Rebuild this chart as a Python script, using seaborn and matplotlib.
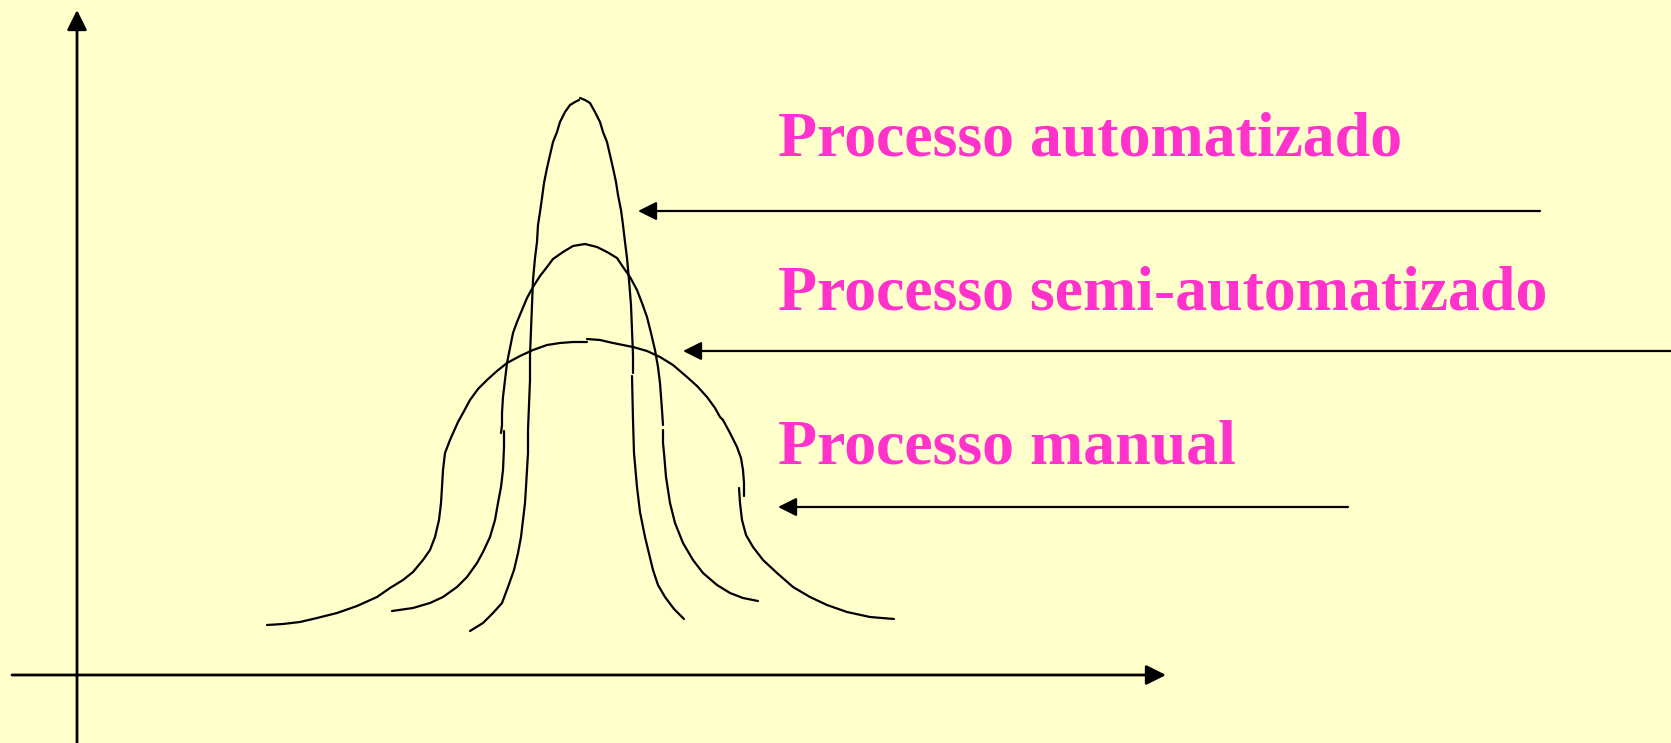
import pandas as pd
from matplotlib import pyplot as plt
import seaborn as sns

# curve points (pixel coords, y grows downward)
# each curve is drawn as a few segments, like the hand-drawn original
auto_left_x = [579, 575, 570, 565, 560, 557, 553, 550, 547, 544, 542, 540, 538, 537, 535, 533, 532, 531, 530, 530, 529,
               528, 528, 527, 526, 525, 523, 521, 518, 514, 508, 502, 493, 483, 470]
auto_left_y = [100, 102, 105, 112, 122, 132, 142, 155, 168, 183, 198, 212, 225, 242, 258, 280, 305, 330, 355, 380, 405,
               430, 453, 470, 487, 503, 520, 537, 553, 570, 587, 603, 613, 623, 631]
auto_right_top_x = [580, 585, 590, 595, 600, 603, 607, 610, 613, 616, 618, 621, 623, 625, 627, 629, 631, 632, 633, 633]
auto_right_top_y = [98, 100, 103, 112, 122, 132, 142, 155, 168, 182, 195, 210, 225, 242, 258, 280, 305, 330, 355, 373]
auto_right_low_x = [632, 633, 634, 637, 640, 645, 653, 658, 665, 674, 684]
auto_right_low_y = [376, 420, 453, 487, 512, 537, 570, 585, 597, 609, 619]

semi_left_top_x = [585, 573, 563, 553, 547, 540, 533, 527, 522, 517, 513, 510, 507, 505, 503, 502, 502, 501]
semi_left_top_y = [244, 246, 252, 259, 267, 276, 287, 298, 310, 322, 333, 348, 363, 380, 397, 413, 425, 433]
semi_left_low_x = [504, 504, 503, 501, 498, 495, 490, 483, 477, 467, 457, 443, 430, 413, 392]
semi_left_low_y = [431, 447, 470, 487, 503, 520, 537, 552, 563, 577, 587, 597, 603, 608, 611]
semi_right_top_x = [585, 597, 607, 617, 623, 630, 637, 642, 647, 651, 655, 658, 660, 662, 663]
semi_right_top_y = [244, 247, 252, 258, 267, 277, 290, 303, 317, 333, 350, 367, 383, 410, 425]
semi_right_low_x = [663, 663, 664, 666, 670, 675, 683, 693, 703, 717, 730, 743, 758]
semi_right_low_y = [430, 443, 453, 477, 503, 523, 543, 560, 573, 585, 593, 598, 601]

man_left_x = [587, 573, 560, 547, 533, 520, 507, 497, 487, 478, 470, 463, 458, 450, 445, 443, 442, 441, 439, 435,
              430, 423, 413, 403, 390, 377, 357, 337, 317, 300, 283, 267]
man_left_y = [342, 342, 343, 345, 350, 356, 363, 371, 380, 389, 400, 413, 422, 440, 453, 470, 487, 503, 520, 537,
              550, 560, 572, 580, 588, 597, 606, 613, 618, 622, 624, 625]
man_right_top_x = [587, 600, 613, 633, 647, 660, 673, 687, 697, 707, 715, 720, 723, 730, 737, 741, 743, 744, 744]
man_right_top_y = [339, 340, 343, 347, 351, 357, 365, 377, 386, 397, 408, 417, 420, 433, 447, 458, 470, 483, 496]
man_right_low_x = [739, 740, 742, 746, 753, 763, 777, 793, 810, 827, 847, 870, 894]
man_right_low_y = [488, 503, 520, 535, 547, 560, 573, 587, 597, 605, 612, 617, 619]

labels = ['Processo automatizado', 'Processo semi-automatizado', 'Processo manual']
label_x = [778, 778, 778]
label_y = [156, 310, 463]

# pointer arrows: start (right) -> tip (left)
arrow_start_x = [1540, 1671, 1348]
arrow_tip_x = [638, 683, 778]
arrow_y = [211, 351, 507]

segments = {
    'auto_left': (auto_left_x, auto_left_y),
    'auto_right_top': (auto_right_top_x, auto_right_top_y),
    'auto_right_low': (auto_right_low_x, auto_right_low_y),
    'semi_left_top': (semi_left_top_x, semi_left_top_y),
    'semi_left_low': (semi_left_low_x, semi_left_low_y),
    'semi_right_top': (semi_right_top_x, semi_right_top_y),
    'semi_right_low': (semi_right_low_x, semi_right_low_y),
    'man_left': (man_left_x, man_left_y),
    'man_right_top': (man_right_top_x, man_right_top_y),
    'man_right_low': (man_right_low_x, man_right_low_y),
}
rows = []
for name, (xs, ys) in segments.items():
    for i, (x, y) in enumerate(zip(xs, ys)):
        rows.append({'seg': name, 'order': i, 'x': x, 'y': y})
df = pd.DataFrame(rows)

sns.set_style("white")
bg = '#FFFFCC'
pink = '#FF33CC'

fig = plt.figure(figsize=(16.71, 7.43), dpi=100, facecolor=bg)
ax = fig.add_axes([0, 0, 1, 1], facecolor=bg)

sns.lineplot(data=df, x='x', y='y', units='seg', estimator=None, sort=False,
             color='black', linewidth=1.6, ax=ax)

# axes of the diagram
ax.annotate('', xy=(77, 10), xytext=(77, 743),
            arrowprops=dict(arrowstyle='-|>', color='black', lw=2, mutation_scale=30,
                            shrinkA=0, shrinkB=0))
ax.annotate('', xy=(1166, 675), xytext=(12, 675),
            arrowprops=dict(arrowstyle='-|>', color='black', lw=2, mutation_scale=30,
                            shrinkA=0, shrinkB=0))

for sx, tx, y in zip(arrow_start_x, arrow_tip_x, arrow_y):
    ax.annotate('', xy=(tx, y), xytext=(sx, y),
                arrowprops=dict(arrowstyle='-|>', color='black', lw=1.6, mutation_scale=28,
                                shrinkA=0, shrinkB=0))

for txt, x, y in zip(labels, label_x, label_y):
    ax.text(x, y, txt, color=pink, fontsize=46, fontweight='bold',
            family=['Liberation Serif', 'DejaVu Serif'], ha='left', va='baseline')

ax.set_xlim(0, 1671)
ax.set_ylim(743, 0)
ax.set_axis_off()

plt.savefig('out.png', dpi=100, facecolor=bg)
